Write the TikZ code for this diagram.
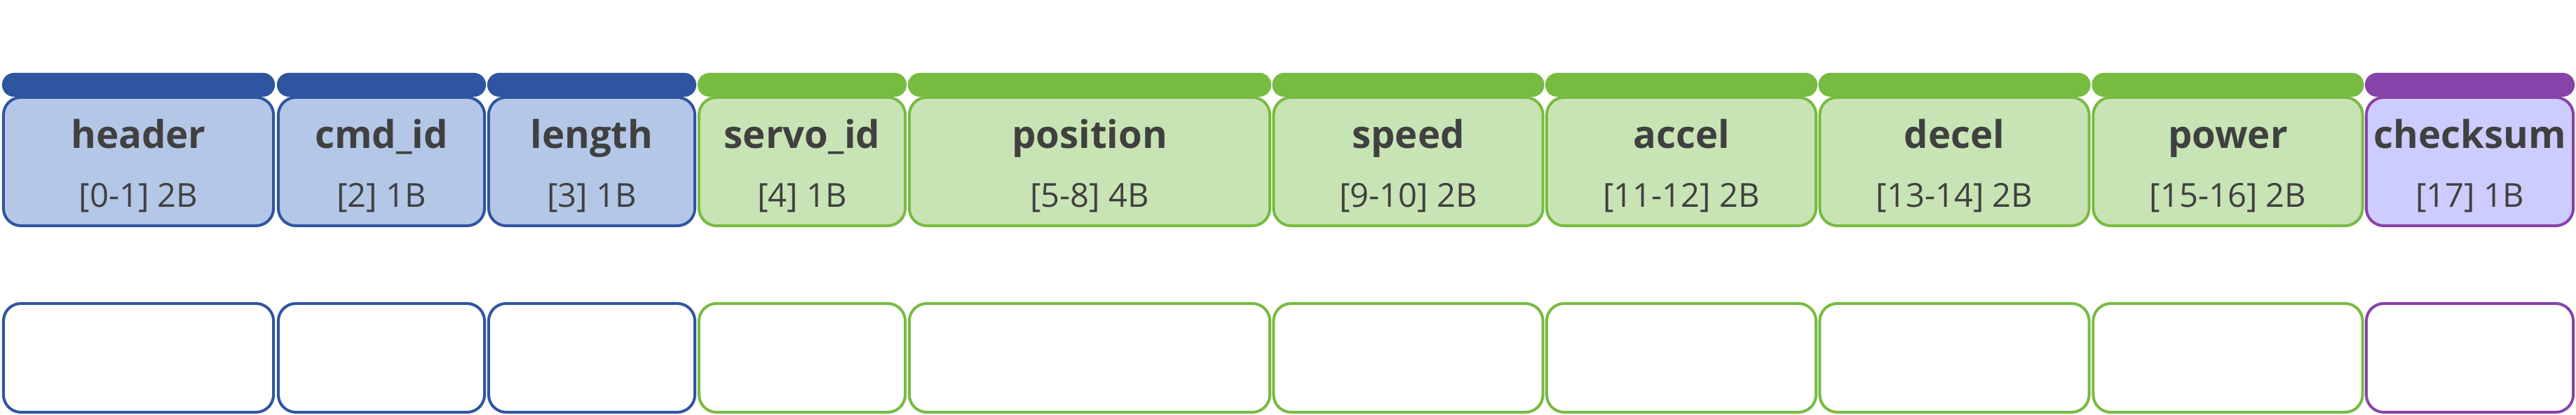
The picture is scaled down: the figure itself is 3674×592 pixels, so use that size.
\documentclass[tikz,border=0pt]{standalone}
\usepackage{xcolor}
\usepackage{fontspec}
\setmainfont{Open Sans}
\usepackage{tikz}
\usetikzlibrary{shapes,arrows}

\definecolor{hdrdark}{RGB}{47,85,161}
\definecolor{hdrlight}{RGB}{180,199,231}
\definecolor{datadark}{RGB}{119,187,65}
\definecolor{datalight}{RGB}{201,228,180}
\definecolor{sumdark}{RGB}{135,67,167}
\definecolor{sumlight}{RGB}{204,204,255}
\definecolor{txt}{RGB}{64,64,64}

\tikzset{
    bar/.style={rectangle, rounded corners=0.17cm, minimum height=0.34cm, inner sep=0pt},
    field/.style={rectangle, rounded corners=0.25cm, draw, line width=0.04cm, minimum height=1.83cm, inner sep=0pt},
    slot/.style={rectangle, rounded corners=0.25cm, draw, line width=0.04cm, fill=white, minimum height=1.55cm, inner sep=0pt},
    fname/.style={anchor=base, inner sep=0pt, txt, font=\fontsize{15.5}{18}\selectfont\bfseries},
    fbytes/.style={anchor=base, inner sep=0pt, txt, font=\fontsize{13.4}{16}\selectfont}
}

\begin{document}
\begin{tikzpicture}[x=0.01cm, y=-0.01cm]
        \useasboundingbox (0,0) rectangle (3674,592);

        \node (b1)[bar, fill = hdrdark, minimum width = 3.89cm] at (197.5,121) {};
        \node (b2)[bar, fill = hdrdark, minimum width = 2.98cm] at (544,121) {};
        \node (b3)[bar, fill = hdrdark, minimum width = 2.98cm] at (844,121) {};
        \node (b4)[bar, fill = datadark, minimum width = 2.98cm] at (1144,121) {};
        \node (b5)[bar, fill = datadark, minimum width = 5.18cm] at (1554,121) {};
        \node (b6)[bar, fill = datadark, minimum width = 3.88cm] at (2008.5,121) {};
        \node (b7)[bar, fill = datadark, minimum width = 3.88cm] at (2398,121) {};
        \node (b8)[bar, fill = datadark, minimum width = 3.88cm] at (2787.5,121) {};
        \node (b9)[bar, fill = datadark, minimum width = 3.88cm] at (3177.5,121) {};
        \node (b10)[bar, fill = sumdark, minimum width = 2.99cm] at (3522.5,121) {};

        \node (header)[field, draw = hdrdark, fill = hdrlight, minimum width = 3.85cm] at (197.5,230.5) {};
        \node (cmdid)[field, draw = hdrdark, fill = hdrlight, minimum width = 2.94cm] at (544,230.5) {};
        \node (length)[field, draw = hdrdark, fill = hdrlight, minimum width = 2.94cm] at (844,230.5) {};
        \node (servoid)[field, draw = datadark, fill = datalight, minimum width = 2.94cm] at (1144,230.5) {};
        \node (position)[field, draw = datadark, fill = datalight, minimum width = 5.14cm] at (1554,230.5) {};
        \node (speed)[field, draw = datadark, fill = datalight, minimum width = 3.84cm] at (2008.5,230.5) {};
        \node (accel)[field, draw = datadark, fill = datalight, minimum width = 3.84cm] at (2398,230.5) {};
        \node (decel)[field, draw = datadark, fill = datalight, minimum width = 3.84cm] at (2787.5,230.5) {};
        \node (power)[field, draw = datadark, fill = datalight, minimum width = 3.84cm] at (3177.5,230.5) {};
        \node (checksum)[field, draw = sumdark, fill = sumlight, minimum width = 2.95cm] at (3522.5,230.5) {};

        \node (n1)[fname] at (197.5,212) {header};
        \node (n2)[fname] at (544,212) {cmd\_id};
        \node (n3)[fname] at (844,212) {length};
        \node (n4)[fname] at (1144,212) {servo\_id};
        \node (n5)[fname] at (1554,212) {position};
        \node (n6)[fname] at (2008.5,212) {speed};
        \node (n7)[fname] at (2398,212) {accel};
        \node (n8)[fname] at (2787.5,212) {decel};
        \node (n9)[fname] at (3177.5,212) {power};
        \node (n10)[fname] at (3522.5,212) {checksum};

        \node (s1)[fbytes] at (197.5,296) {[0-1] 2B};
        \node (s2)[fbytes] at (544,296) {[2] 1B};
        \node (s3)[fbytes] at (844,296) {[3] 1B};
        \node (s4)[fbytes] at (1144,296) {[4] 1B};
        \node (s5)[fbytes] at (1554,296) {[5-8] 4B};
        \node (s6)[fbytes] at (2008.5,296) {[9-10] 2B};
        \node (s7)[fbytes] at (2398,296) {[11-12] 2B};
        \node (s8)[fbytes] at (2787.5,296) {[13-14] 2B};
        \node (s9)[fbytes] at (3177.5,296) {[15-16] 2B};
        \node (s10)[fbytes] at (3522.5,296) {[17] 1B};

        \node (v1)[slot, draw = hdrdark, minimum width = 3.85cm] at (197.5,510.5) {};
        \node (v2)[slot, draw = hdrdark, minimum width = 2.94cm] at (544,510.5) {};
        \node (v3)[slot, draw = hdrdark, minimum width = 2.94cm] at (844,510.5) {};
        \node (v4)[slot, draw = datadark, minimum width = 2.94cm] at (1144,510.5) {};
        \node (v5)[slot, draw = datadark, minimum width = 5.14cm] at (1554,510.5) {};
        \node (v6)[slot, draw = datadark, minimum width = 3.84cm] at (2008.5,510.5) {};
        \node (v7)[slot, draw = datadark, minimum width = 3.84cm] at (2398,510.5) {};
        \node (v8)[slot, draw = datadark, minimum width = 3.84cm] at (2787.5,510.5) {};
        \node (v9)[slot, draw = datadark, minimum width = 3.84cm] at (3177.5,510.5) {};
        \node (v10)[slot, draw = sumdark, minimum width = 2.95cm] at (3522.5,510.5) {};

\end{tikzpicture}
\end{document}
